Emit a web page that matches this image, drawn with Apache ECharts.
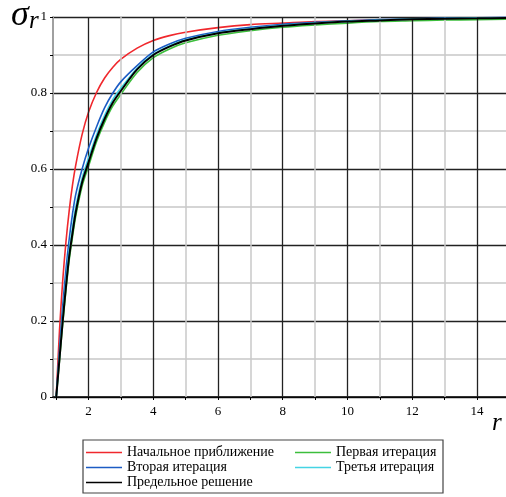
<!DOCTYPE html>
<html>
<head>
<meta charset="utf-8">
<script src="https://cdn.jsdelivr.net/npm/echarts@6/dist/echarts.min.js"></script>
<style>
  html, body { margin: 0; padding: 0; background: #fff; }
  #chart { width: 506px; height: 497px; }
</style>
</head>
<body>
<div id="chart"></div>
<script>
const rValues = [1, 1.1, 1.2, 1.3, 1.4, 1.5, 1.6, 1.8, 2, 2.25, 2.5, 2.75, 3, 3.5, 4, 4.5, 5, 6, 7, 8, 9, 10, 11, 12, 13, 14, 15];

const initialApprox = [0, 0.174, 0.306, 0.408, 0.49, 0.556, 0.609, 0.691, 0.75, 0.802, 0.84, 0.868, 0.889, 0.918, 0.938, 0.951, 0.96, 0.972, 0.98, 0.984, 0.988, 0.99, 0.992, 0.993, 0.994, 0.995, 0.9956];
const firstIter = [0, 0.095, 0.192, 0.281, 0.36, 0.42, 0.475, 0.555, 0.608, 0.673, 0.724, 0.766, 0.797, 0.854, 0.893, 0.916, 0.932, 0.952, 0.964, 0.973, 0.979, 0.984, 0.988, 0.99, 0.992, 0.993, 0.994];
const secondIter = [0, 0.125, 0.24, 0.335, 0.415, 0.48, 0.532, 0.6, 0.655, 0.712, 0.762, 0.8, 0.83, 0.872, 0.908, 0.929, 0.944, 0.962, 0.973, 0.981, 0.986, 0.99, 0.993, 0.995, 0.997, 0.998, 0.999];
const thirdIter = [0, 0.108, 0.212, 0.304, 0.384, 0.445, 0.499, 0.576, 0.629, 0.691, 0.742, 0.783, 0.813, 0.865, 0.902, 0.924, 0.94, 0.9585, 0.9695, 0.978, 0.984, 0.9886, 0.9916, 0.9943, 0.996, 0.997, 0.998];
const limitSolution = [0, 0.1, 0.2, 0.29, 0.37, 0.43, 0.485, 0.565, 0.618, 0.682, 0.733, 0.775, 0.806, 0.862, 0.9, 0.922, 0.938, 0.957, 0.968, 0.977, 0.983, 0.988, 0.991, 0.994, 0.9955, 0.9965, 0.9975];

const xLabels = [2, 4, 6, 8, 10, 12, 14];
const xTicks = [1, 2, 3, 4, 5, 6, 7, 8, 9, 10, 11, 12, 13, 14];
const majorX = [2, 4, 6, 8, 10, 12, 14];
const minorX = [3, 5, 7, 9, 11, 13];

const names = ["Начальное приближение", "Первая итерация", "Вторая итерация", "Третья итерация", "Предельное решение"];
const colors = ["#f0282d", "#3cbe3c", "#1c5cc4", "#44d4e4", "#000000"];
const serif = "Liberation Serif";

const pairs = (ys) => rValues.map((r, i) => [r, ys[i]]);

const curves = [initialApprox, firstIter, secondIter, thirdIter, limitSolution].map((ys, i) => ({
  name: names[i],
  type: "line",
  data: pairs(ys),
  smooth: 0.3,
  symbol: "none",
  z: 3 + i,
  lineStyle: { color: colors[i], width: i === 4 ? 2 : 1.6 },
  itemStyle: { color: colors[i] },
}));

// vertical grid lines (the x range starts at 0.9, so draw them here)
const gridSeries = {
  name: "grid",
  type: "line",
  data: [],
  z: 1,
  silent: true,
  markLine: {
    silent: true,
    symbol: ["none", "none"],
    label: { show: false },
    animation: false,
    data: [
      ...minorX.map((v) => ({ xAxis: v, lineStyle: { color: "#c8c8c8", width: 1.5, type: "solid" } })),
      ...majorX.map((v) => ({ xAxis: v, lineStyle: { color: "#222", width: 1.3, type: "solid" } })),
    ],
  },
};

const legendBase = {
  orient: "vertical",
  top: 445,
  icon: "rect",
  itemWidth: 36,
  itemHeight: 1.6,
  itemGap: 0,
  padding: 0,
  textStyle: { fontFamily: serif, fontSize: 14, color: "#000", lineHeight: 15 },
};

const chart = echarts.init(document.getElementById("chart"));
chart.setOption({
  animation: false,
  backgroundColor: "#fff",
  grid: { left: 53, right: 0, top: 17, bottom: 100, containLabel: false },
  xAxis: {
    type: "value",
    min: 0.9,
    max: 14.9,
    axisLine: { show: true, onZero: false, lineStyle: { color: "#000", width: 1.5 } },
    axisTick: { show: true, customValues: xTicks, length: 3, lineStyle: { color: "#000" } },
    axisLabel: { customValues: xLabels, color: "#000", fontFamily: serif, fontSize: 13, margin: 8 },
    splitLine: { show: false },
  },
  yAxis: {
    type: "value",
    min: 0,
    max: 1,
    interval: 0.2,
    axisLine: { show: true, lineStyle: { color: "#a0a0a0", width: 2 } },
    axisTick: { show: true, length: 3, lineStyle: { color: "#000" } },
    minorTick: { show: true, splitNumber: 2, length: 3, lineStyle: { color: "#000" } },
    axisLabel: { color: "#000", fontFamily: serif, fontSize: 13, margin: 6 },
    splitLine: { show: true, lineStyle: { color: "#222", width: 1.3 } },
    minorSplitLine: { show: true, lineStyle: { color: "#c8c8c8", width: 1.5 } },
  },
  legend: [
    { ...legendBase, data: [names[0], names[2], names[4]], left: 86 },
    { ...legendBase, data: [names[1], names[3]], left: 295 },
  ],
  graphic: [
    {
      type: "rect",
      shape: { x: 83, y: 440, width: 360, height: 53 },
      style: { fill: "none", stroke: "#444", lineWidth: 1.2 },
      silent: true,
    },
    {
      type: "text",
      left: 11,
      top: -2,
      style: { text: "σ", font: "italic 36px 'Liberation Serif'", fill: "#000" },
    },
    {
      type: "text",
      left: 29,
      top: 9,
      style: { text: "r", font: "italic 25px 'Liberation Serif'", fill: "#000" },
    },
    {
      type: "text",
      left: 492,
      top: 411,
      style: { text: "r", font: "italic 25px 'Liberation Serif'", fill: "#000" },
    },
  ],
  series: [gridSeries, ...curves],
});
</script>
</body>
</html>
